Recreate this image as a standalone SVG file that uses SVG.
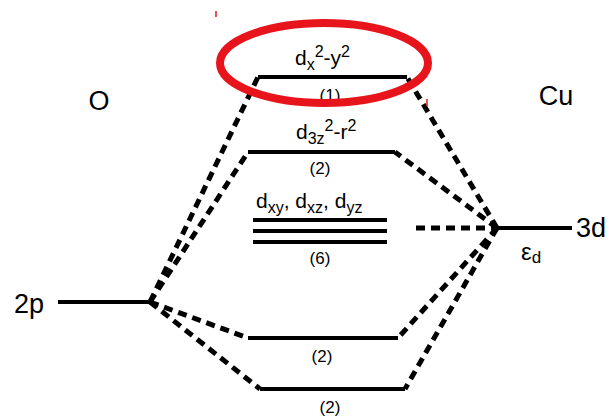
<svg xmlns="http://www.w3.org/2000/svg" width="616" height="416" viewBox="0 0 616 416">
<style>
.lvl{stroke:#000;stroke-width:4;fill:none;stroke-linecap:butt}
.dash{stroke:#000;stroke-width:5;fill:none;stroke-dasharray:9 6}
text{font-family:"Liberation Sans",Arial,sans-serif;fill:#000}
.big{font-size:27px}
.orb{font-size:21px}
.sub{font-size:16px}
.deg{font-size:17px;text-anchor:middle}
</style>
<rect width="616" height="416" fill="#fff"/>
<g id="connectors">
<line class="dash" x1="150" y1="302" x2="258" y2="77"/>
<line class="dash" x1="150" y1="302" x2="248" y2="152"/>
<line class="dash" x1="150" y1="302" x2="248" y2="338"/>
<line class="dash" x1="150" y1="302" x2="260" y2="389"/>
<line class="dash" x1="497" y1="228" x2="407" y2="77"/>
<line class="dash" x1="497" y1="228" x2="395" y2="152"/>
<line class="dash" x1="497" y1="228" x2="398" y2="338"/>
<line class="dash" x1="497" y1="228" x2="405" y2="389"/>
<line class="dash" x1="416" y1="228" x2="497" y2="228"/>
</g>
<g id="O-label"><text class="big" x="99" y="110" text-anchor="middle">O</text></g>
<g id="Cu-label"><text class="big" x="556" y="105" text-anchor="middle">Cu</text></g>
<g id="O-2p">
<line class="lvl" x1="58" y1="302" x2="150" y2="302"/>
<text class="big" x="14" y="313">2p</text>
</g>
<g id="Cu-3d">
<line class="lvl" x1="497" y1="228" x2="572" y2="228"/>
<text class="big" x="576" y="237">3d</text>
<text x="521" y="260" style="font-size:24px">ε<tspan dy="3" style="font-size:17px">d</tspan></text>
</g>
<g id="level-dx2y2">
<line class="lvl" x1="258" y1="77" x2="407" y2="77"/>
<text class="orb" x="295" y="65">d<tspan class="sub" dy="5">x</tspan><tspan class="sub" dy="-13">2</tspan><tspan class="orb" dy="8">-y</tspan><tspan class="sub" dy="-8">2</tspan></text>
<text class="deg" x="330" y="101">(1)</text>
</g>
<g id="level-d3z2r2">
<line class="lvl" x1="248" y1="152" x2="395" y2="152"/>
<text class="orb" x="296" y="139">d<tspan class="sub" dy="5">3z</tspan><tspan class="sub" dy="-13">2</tspan><tspan class="orb" dy="8">-r</tspan><tspan class="sub" dy="-8">2</tspan></text>
<text class="deg" x="320" y="174">(2)</text>
</g>
<g id="level-t2g">
<line class="lvl" x1="253" y1="220" x2="387" y2="220"/>
<line class="lvl" x1="253" y1="231" x2="387" y2="231"/>
<line class="lvl" x1="253" y1="242" x2="387" y2="242"/>
<text class="orb" x="256" y="208">d<tspan class="sub" dy="5">xy</tspan><tspan dy="-5">, d</tspan><tspan class="sub" dy="5">xz</tspan><tspan dy="-5">, d</tspan><tspan class="sub" dy="5">yz</tspan></text>
<text class="deg" x="320" y="264">(6)</text>
</g>
<g id="level-bond1">
<line class="lvl" x1="248" y1="338" x2="398" y2="338"/>
<text class="deg" x="322" y="362">(2)</text>
</g>
<g id="level-bond2">
<line class="lvl" x1="260" y1="389" x2="405" y2="389"/>
<text class="deg" x="330" y="413">(2)</text>
</g>
<g id="highlight">
<ellipse cx="324" cy="63" rx="104" ry="40" fill="none" stroke="#e8141c" stroke-width="8"/>
<line x1="216" y1="11" x2="216" y2="17" stroke="#e8141c" stroke-width="1.5"/>
<line x1="427" y1="99" x2="427" y2="106" stroke="#e8141c" stroke-width="1.5"/>
</g>
</svg>
